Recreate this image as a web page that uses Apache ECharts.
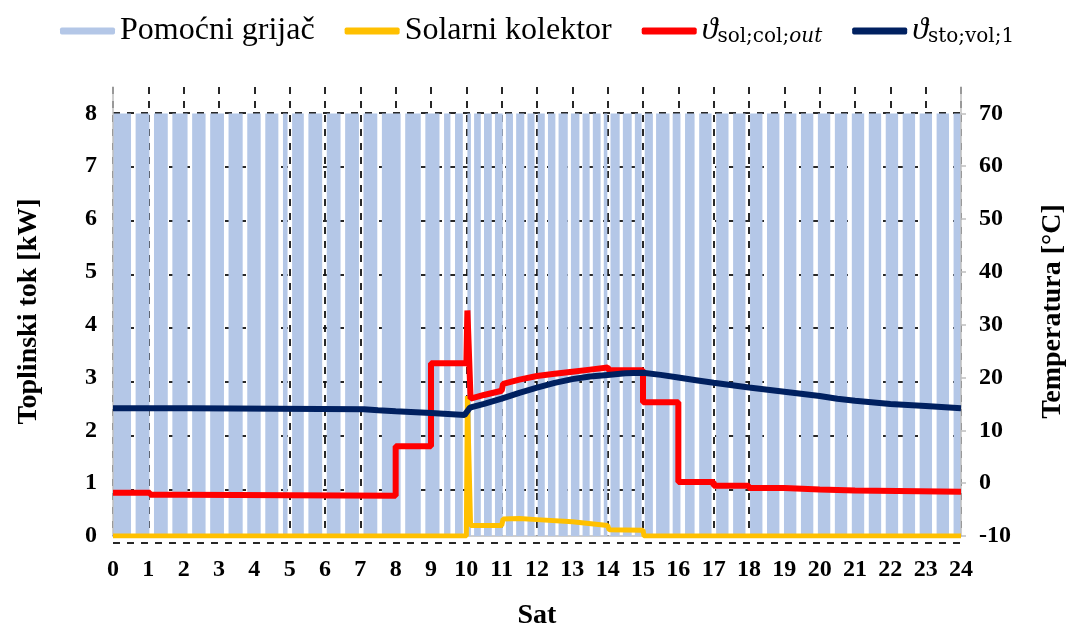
<!DOCTYPE html>
<html>
<head>
<meta charset="utf-8">
<script src="https://cdn.jsdelivr.net/npm/echarts@6/dist/echarts.min.js"></script>
<style>html,body{margin:0;padding:0;background:#fff;}#c{width:1075px;height:635px;}</style>
</head>
<body>
<div id="c"></div>
<script>
// ---- data ----
var hourTicks = [0,1,2,3,4,5,6,7,8,9,10,11,12,13,14,15,16,17,18,19,20,21,22,23,24];
// auxiliary heater (kW): on at 8 kW except during these off periods (hours)
var heaterOnValue = 8;
var heaterOffStart = [0.51,1.03,1.55,2.11,2.62,3.14,3.67,4.18,4.68,4.94,5.40,5.92,6.44,6.96,7.48,8.14,8.71,9.24,9.55,9.90,
  10.13,10.41,10.72,11.03,11.32,11.64,11.93,12.22,12.52,12.87,13.20,13.49,13.80,13.99,14.34,14.68,14.96,15.28,15.75,
  16.06,16.46,16.94,17.42,17.90,18.38,18.86,19.34,19.82,20.30,20.78,21.26,21.74,22.22,22.70,23.18,23.66];
var heaterOffEnd = [0.64,1.16,1.68,2.24,2.75,3.27,3.80,4.31,4.81,5.07,5.53,6.05,6.57,7.09,7.61,8.27,8.84,9.37,9.68,10.03,
  10.22,10.50,10.81,11.12,11.41,11.73,12.02,12.31,12.61,12.96,13.29,13.58,13.89,14.08,14.43,14.77,15.05,15.37,15.84,
  16.19,16.59,17.07,17.55,18.03,18.51,18.99,19.47,19.95,20.43,20.91,21.39,21.87,22.35,22.83,23.31,23.79];
// solar collector heat flow (kW)
var solarTime  = [0, 10.0, 10.03, 10.12, 11.0, 11.04, 11.5, 12.0, 13.0, 14.0, 14.04, 15.0, 15.03, 24];
var solarValue = [0, 0,    2.65,  0.2,   0.2,  0.32,  0.33, 0.31, 0.27, 0.2,  0.12,  0.11, 0,     0];
// collector outlet temperature (°C)
var colTime  = [0, 1.05, 1.05, 2.0, 2.0, 8.0, 8.0, 9.0, 9.0, 10.0, 10.03, 10.12, 10.5, 11.0, 11.04, 11.5, 12.0, 12.5, 13.0, 13.5, 14.0, 14.04, 15.0, 15.0, 16.0, 16.0, 17.0, 17.0, 18.0, 18.0, 19.0, 19.0, 20.0, 20.0, 21.0, 21.0, 24];
var colTemp  = [-1.8, -1.8, -2.2, -2.2, -2.4, -2.4, 7.0, 7.0, 22.7, 22.7, 32.7, 16.0, 16.7, 17.5, 18.8, 19.6, 20.3, 20.7, 21.1, 21.5, 21.9, 21.4, 21.4, 15.3, 15.3, 0.2, 0.2, -0.5, -0.5, -0.9, -0.9, -1.2, -1.2, -1.4, -1.4, -1.6, -1.6];
// storage volume temperature (°C)
var stoTime = [0, 2.2, 2.25, 7.1, 7.5, 8.0, 9.0, 9.95, 10.1, 10.5, 11.0, 11.5, 12.0, 12.5, 13.0, 13.5, 14.0, 14.5, 15.0, 15.5, 16.0, 16.5, 17.0, 18.0, 19.0, 20.0, 20.5, 21.0, 22.0, 23.0, 24.0];
var stoTemp = [14.2, 14.2, 14.0, 14.0, 13.8, 13.6, 13.3, 12.9, 14.3, 15.0, 16.0, 17.1, 18.1, 19.0, 19.7, 20.2, 20.5, 20.8, 20.9, 20.5, 20.0, 19.5, 19.0, 18.1, 17.3, 16.5, 16.0, 15.6, 15.0, 14.6, 14.2];
var leftTicks = [0,1,2,3,4,5,6,7,8];
var rightTicks = [-10,0,10,20,30,40,50,60,70];

// ---- build series points ----
function zip(a, b) { return a.map(function (v, i) { return [v, b[i]]; }); }
var heaterData = [[0, heaterOnValue]];
for (var i = 0; i < heaterOffStart.length; i++) {
  heaterData.push([heaterOffStart[i], heaterOnValue], [heaterOffStart[i], 0], [heaterOffEnd[i], 0], [heaterOffEnd[i], heaterOnValue]);
}
heaterData.push([24, heaterOnValue]);

var serif = 'Liberation Serif';
var lblStyle = { fontFamily: serif, fontWeight: 'bold', fontSize: 24, color: '#000' };
var gridDash = { color: '#111', width: 1.8, type: [7, 7] };

var chart = echarts.init(document.getElementById('c'), null, { renderer: 'canvas' });
chart.setOption({
  animation: false,
  backgroundColor: '#fff',
  legend: {
    top: 10, left: 55,
    icon: 'roundRect', itemWidth: 55, itemHeight: 7, itemGap: 30,
    data: ['Pomoćni grijač', 'Solarni kolektor', 'ϑcol', 'ϑsto'],
    formatter: function (n) {
      if (n === 'ϑcol') return '{th|ϑ}{sub|sol;col;}{subi|out}';
      if (n === 'ϑsto') return '{th|ϑ}{sub|sto;vol;1}';
      return n;
    },
    textStyle: {
      fontFamily: serif, fontSize: 32, color: '#000',
      rich: {
        th: { fontFamily: serif, fontSize: 32, fontStyle: 'italic', color: '#000' },
        sub: { fontFamily: 'DejaVu Serif', fontSize: 20, color: '#000', verticalAlign: 'bottom', padding: [10, 0, 0, 0] },
        subi: { fontFamily: 'DejaVu Serif', fontSize: 20, fontStyle: 'italic', color: '#000', verticalAlign: 'bottom', padding: [10, 0, 0, 0] }
      }
    }
  },
  grid: [
    { left: 113, right: 110, top: 87, bottom: 92 },
    { left: 113, right: 110, top: 113, bottom: 92 }
  ],
  xAxis: [{
    type: 'value', gridIndex: 0, min: 0, max: 24, interval: 1,
    name: 'Sat', nameLocation: 'middle', nameGap: 66,
    nameTextStyle: { fontFamily: serif, fontWeight: 'bold', fontSize: 28, color: '#000' },
    axisLine: { show: true, lineStyle: { color: '#bfbfbf', width: 1.5 } },
    axisTick: { show: false },
    axisLabel: Object.assign({ margin: 22, formatter: function (v) { return hourTicks.indexOf(v) >= 0 ? String(v) : ''; } }, lblStyle),
    splitLine: { show: true, lineStyle: gridDash }
  }, {
    type: 'value', gridIndex: 1, min: 0, max: 24, show: false
  }],
  yAxis: [{
    type: 'value', gridIndex: 0, min: 0, max: 8.5, interval: 1, position: 'left', z: 3,
    name: 'Toplinski tok [kW]', nameLocation: 'middle', nameGap: 70,
    nameTextStyle: { fontFamily: serif, fontWeight: 'bold', fontSize: 28, color: '#000' },
    axisLine: { show: true, lineStyle: { color: '#bfbfbf', width: 1.5 } },
    axisTick: { show: false },
    axisLabel: Object.assign({ margin: 16, showMaxLabel: false, formatter: function (v) { return leftTicks.indexOf(v) >= 0 ? String(v) : ''; } }, lblStyle),
    splitLine: { show: false }
  }, {
    type: 'value', gridIndex: 0, min: -10, max: 75, interval: 10, position: 'right', z: 3,
    name: 'Temperatura [°C]', nameLocation: 'middle', nameGap: 78, nameRotate: 90,
    nameTextStyle: { fontFamily: serif, fontWeight: 'bold', fontSize: 28, color: '#000' },
    axisLine: { show: true, lineStyle: { color: '#bfbfbf', width: 1.5 } },
    axisTick: { show: true, length: 5, lineStyle: { color: '#bfbfbf', width: 1.5 } },
    axisLabel: Object.assign({ margin: 18, showMaxLabel: false, formatter: function (v) { return rightTicks.indexOf(v) >= 0 ? String(v) : ''; } }, lblStyle),
    splitLine: { show: false }
  }, {
    type: 'value', gridIndex: 1, min: 0, max: 8, interval: 1,
    axisLine: { show: false }, axisTick: { show: false }, axisLabel: { show: false },
    splitLine: { show: true, lineStyle: gridDash }
  }],
  series: [{
    name: 'Pomoćni grijač', type: 'line', xAxisIndex: 0, yAxisIndex: 0, z: 2,
    data: heaterData, symbol: 'none', color: '#B4C7E7',
    lineStyle: { color: '#B4C7E7', width: 0 },
    areaStyle: { color: '#B4C7E7', opacity: 1 }
  }, {
    name: 'Solarni kolektor', type: 'line', xAxisIndex: 0, yAxisIndex: 0, z: 3,
    data: zip(solarTime, solarValue), symbol: 'none', color: '#FFC000',
    lineStyle: { color: '#FFC000', width: 5 }
  }, {
    name: 'ϑcol', type: 'line', xAxisIndex: 0, yAxisIndex: 1, z: 4,
    data: zip(colTime, colTemp), symbol: 'none', color: '#FF0000',
    lineStyle: { color: '#FF0000', width: 6 }
  }, {
    name: 'ϑsto', type: 'line', xAxisIndex: 0, yAxisIndex: 1, z: 5,
    data: zip(stoTime, stoTemp), symbol: 'none', color: '#002060',
    lineStyle: { color: '#002060', width: 6 }
  }]
});
</script>
</body>
</html>
